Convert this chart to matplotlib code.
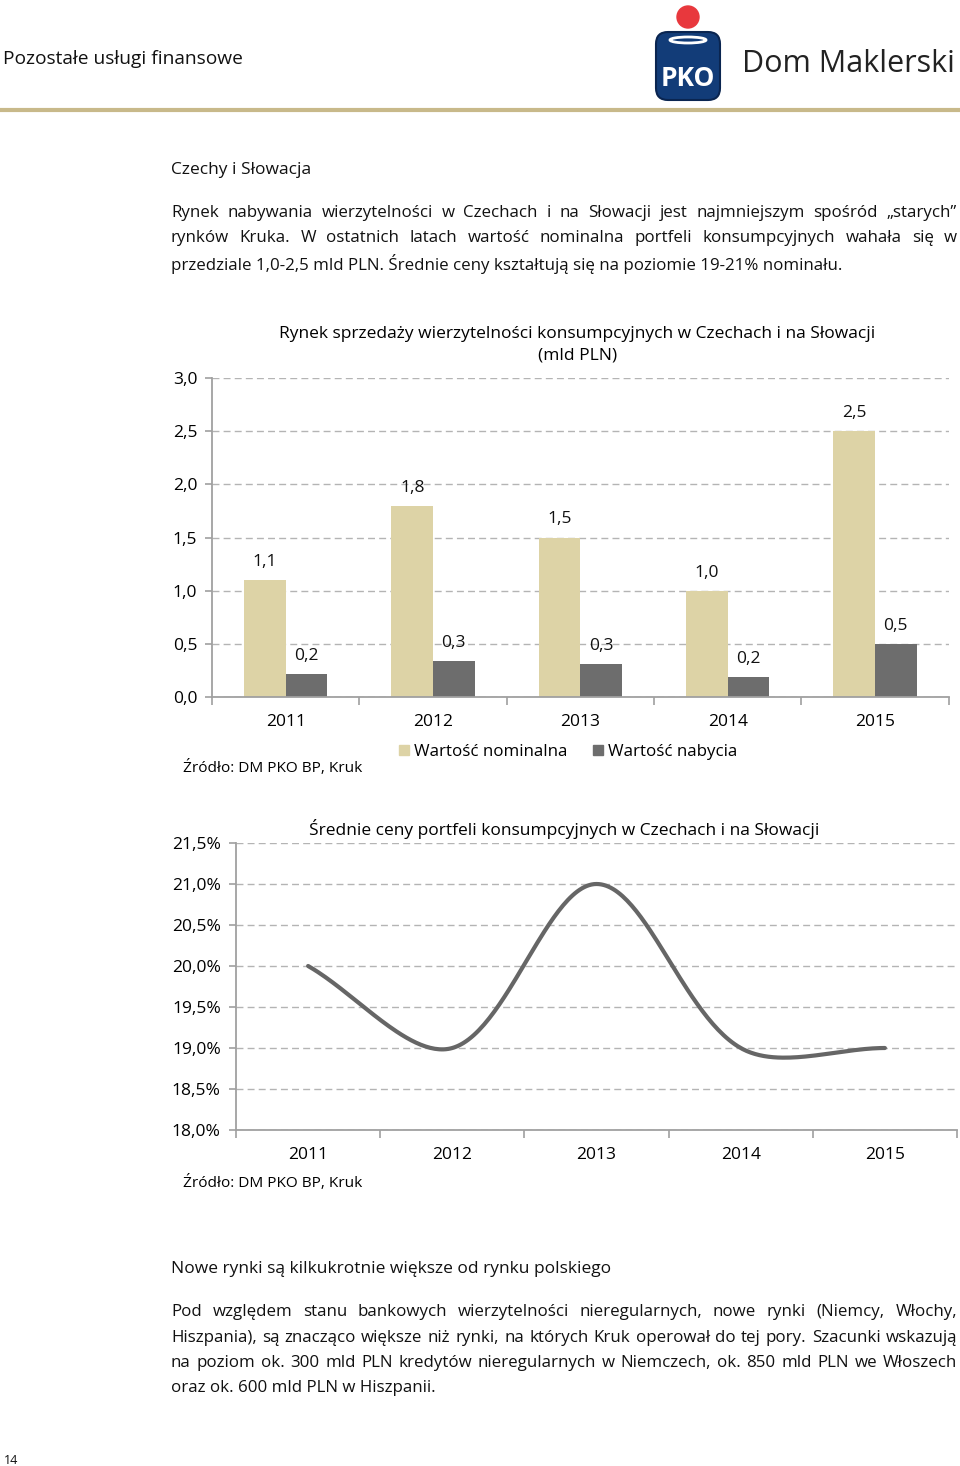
import numpy as np
import matplotlib
matplotlib.use('Agg')
from matplotlib import pyplot as plt
from matplotlib.patches import Patch, Circle, FancyBboxPatch, Ellipse
from matplotlib.ticker import FuncFormatter, FixedLocator

plt.rcParams['font.family'] = ['Open Sans', 'DejaVu Sans']

# dane - wykres 1 (mld PLN)
years = ['2011', '2012', '2013', '2014', '2015']
nominal = [1.10, 1.80, 1.50, 1.00, 2.50]
purchase = [0.22, 0.34, 0.31, 0.19, 0.50]
series_names = ['Wartość nominalna', 'Wartość nabycia']

# dane - wykres 2 (% nominału)
avg_price = [20.0, 19.0, 21.0, 19.0, 19.0]

source = 'Źródło: DM PKO BP, Kruk'

para1 = ['Rynek nabywania wierzytelności w Czechach i na Słowacji jest najmniejszym spośród „starych”',
         'rynków Kruka. W ostatnich latach wartość nominalna portfeli konsumpcyjnych wahała się w',
         'przedziale 1,0-2,5 mld PLN. Średnie ceny kształtują się na poziomie 19-21% nominału.']
para2 = ['Pod względem stanu bankowych wierzytelności nieregularnych, nowe rynki (Niemcy, Włochy,',
         'Hiszpania), są znacząco większe niż rynki, na których Kruk operował do tej pory. Szacunki wskazują',
         'na poziom ok. 300 mld PLN kredytów nieregularnych w Niemczech, ok. 850 mld PLN we Włoszech',
         'oraz ok. 600 mld PLN w Hiszpanii.']

TAN = '#DDD3A6'
DGRAY = '#6D6D6D'
GRID = '#B4B4B4'
SPINE = '#A0A0A0'

W, H = 960, 1466
fig = plt.figure(figsize=(W / 100, H / 100), dpi=100)
renderer = fig.canvas.get_renderer()

page = fig.add_axes([0, 0, 1, 1])
page.set_xlim(0, W)
page.set_ylim(H, 0)
page.axis('off')


def px_axes(x0, y0, x1, y1):
    '''osie w pikselach strony (y od góry)'''
    return fig.add_axes([x0 / W, 1 - y1 / H, (x1 - x0) / W, (y1 - y0) / H])


def justify(line, y, x0, x1, fs, last=False):
    if last:
        page.text(x0, y, line, fontsize=fs, va='center', color='#111111')
        return
    words = line.split()
    ts = [page.text(0, y, w, fontsize=fs, va='center', color='#111111') for w in words]
    widths = [t.get_window_extent(renderer).width for t in ts]
    gap = (x1 - x0 - sum(widths)) / (len(words) - 1)
    x = x0
    for t, w in zip(ts, widths):
        t.set_x(x)
        x += w + gap


# nagłówek
page.text(3, 59, 'Pozostałe usługi finansowe', fontsize=13.8, va='center', color='#111111')
page.plot([0, W], [110, 110], color='#C8B98A', lw=3, solid_capstyle='butt')

# logo
page.add_patch(Circle((688, 17), 11, color='#E8383D'))
page.add_patch(FancyBboxPatch((656, 32), 64, 68, boxstyle='round,pad=0,rounding_size=12',
                              fc='#123C78', ec='#0A2550', lw=1.5))
page.add_patch(Ellipse((688, 40), 36, 6, fc='none', ec='white', lw=2))
page.text(688, 78, 'PKO', fontsize=19, fontweight='bold', color='white', ha='center', va='center')
dm = page.text(742, 64, 'Dom Maklerski', fontsize=25, va='center', color='#222222')
dm_w = dm.get_window_extent(renderer).width
dm.set_fontsize(25 * 213 / dm_w)

# tekst
page.text(171, 170, 'Czechy i Słowacja', fontsize=12.5, va='center', color='#111111')
for i, line in enumerate(para1):
    justify(line, 213 + i * 25.5, 171, 957, 12.15, last=(i == len(para1) - 1))

page.text(171, 1269, 'Nowe rynki są kilkukrotnie większe od rynku polskiego', fontsize=12.5,
          va='center', color='#111111')
for i, line in enumerate(para2):
    justify(line, 1312 + i * 25.5, 171, 957, 12.15, last=(i == len(para2) - 1))

page.text(4, 1461, '14', fontsize=9, va='center', color='#111111')

comma = FuncFormatter(lambda v, p: f'{v:.1f}'.replace('.', ','))
pct = FuncFormatter(lambda v, p: f'{v:.1f}%'.replace('.', ','))


def style_axes(ax, ypad):
    ax.set_facecolor('none')
    for s in ['top', 'right']:
        ax.spines[s].set_visible(False)
    for s in ['left', 'bottom']:
        ax.spines[s].set_color(SPINE)
        ax.spines[s].set_linewidth(1.3)
    ax.yaxis.grid(True, color=GRID, linestyle=(0, (5, 3)), lw=1)
    ax.set_axisbelow(True)
    ax.set_xlim(-0.5, len(years) - 0.5)
    ax.set_xticks(range(len(years)))
    ax.set_xticklabels(years)
    ax.xaxis.set_minor_locator(FixedLocator(np.arange(-0.5, len(years), 1)))
    ax.tick_params(axis='x', which='major', length=0, labelsize=12.5, pad=12)
    ax.tick_params(axis='x', which='minor', length=6, color=SPINE, width=1.2)
    ax.tick_params(axis='y', length=5, color=SPINE, width=1.2, labelsize=12.5, pad=ypad)


# wykres 1
ax1 = px_axes(212, 378, 948.7, 697)
style_axes(ax1, 5.5)
x = np.arange(len(years))
w = 0.282
b1 = ax1.bar(x - w / 2, nominal, w, color=TAN, label=series_names[0])
b2 = ax1.bar(x + w / 2, purchase, w, color=DGRAY, label=series_names[1])
for bars, vals in [(b1, nominal), (b2, purchase)]:
    for r, v in zip(bars, vals):
        ax1.annotate(f'{v:.1f}'.replace('.', ','), (r.get_x() + r.get_width() / 2, v),
                     xytext=(0, 13), textcoords='offset points', ha='center', va='center',
                     fontsize=12.5, color='#111111')
ax1.set_ylim(0, 3.0)
ax1.set_yticks(np.arange(0, 3.01, 0.5))
ax1.yaxis.set_major_formatter(comma)

fig.text(577.5 / W, 1 - 334 / H, 'Rynek sprzedaży wierzytelności konsumpcyjnych w Czechach i na Słowacji',
         ha='center', va='center', fontsize=12.5)
fig.text(577.5 / W, 1 - 356 / H, '(mld PLN)', ha='center', va='center', fontsize=12.5)
fig.legend(handles=[Patch(color=TAN, label=series_names[0]), Patch(color=DGRAY, label=series_names[1])],
           loc='center', bbox_to_anchor=(568 / W, 1 - 752 / H), ncol=2, frameon=False,
           handlelength=0.6, handleheight=0.6, handletextpad=0.3, columnspacing=1.5, fontsize=12.2)
fig.text(183 / W, 1 - 768 / H, source, va='center', fontsize=11.1)


# wykres 2 - wygładzona linia (jak w Excelu)
def smooth(xs, ys, sx, sy, n=60):
    P = np.column_stack([np.asarray(xs, float) * sx, np.asarray(ys, float) * sy])
    m = len(P)
    out = []
    for i in range(m - 1):
        p0, p1, p2, p3 = P[max(i - 1, 0)], P[i], P[i + 1], P[min(i + 2, m - 1)]
        l01, l12, l23 = np.linalg.norm(p1 - p0), np.linalg.norm(p2 - p1), np.linalg.norm(p3 - p2)
        c1 = p1 + (p2 - p0) * l12 / (l01 + l12) / 3
        c2 = p2 - (p3 - p1) * l12 / (l12 + l23) / 3
        t = np.linspace(0, 1, n)[:, None]
        seg = (1 - t) ** 3 * p1 + 3 * (1 - t) ** 2 * t * c1 + 3 * (1 - t) * t ** 2 * c2 + t ** 3 * p2
        out.append(seg)
    out = np.vstack(out)
    return out[:, 0] / sx, out[:, 1] / sy


ax2 = px_axes(236, 843, 957, 1130)
style_axes(ax2, 6)
sx = (957 - 236) / len(years)
sy = (1130 - 843) / 3.5
lx, ly = smooth(x, avg_price, sx, sy)
ax2.plot(lx, ly, color='#666666', lw=3, solid_capstyle='round')
ax2.set_ylim(18.0, 21.5)
ax2.set_yticks(np.arange(18.0, 21.51, 0.5))
ax2.yaxis.set_major_formatter(pct)

fig.text(564 / W, 1 - 829 / H, 'Średnie ceny portfeli konsumpcyjnych w Czechach i na Słowacji',
         ha='center', va='center', fontsize=12.5)
fig.text(183 / W, 1 - 1183 / H, source, va='center', fontsize=11.1)

fig.savefig('out.png', dpi=100)
